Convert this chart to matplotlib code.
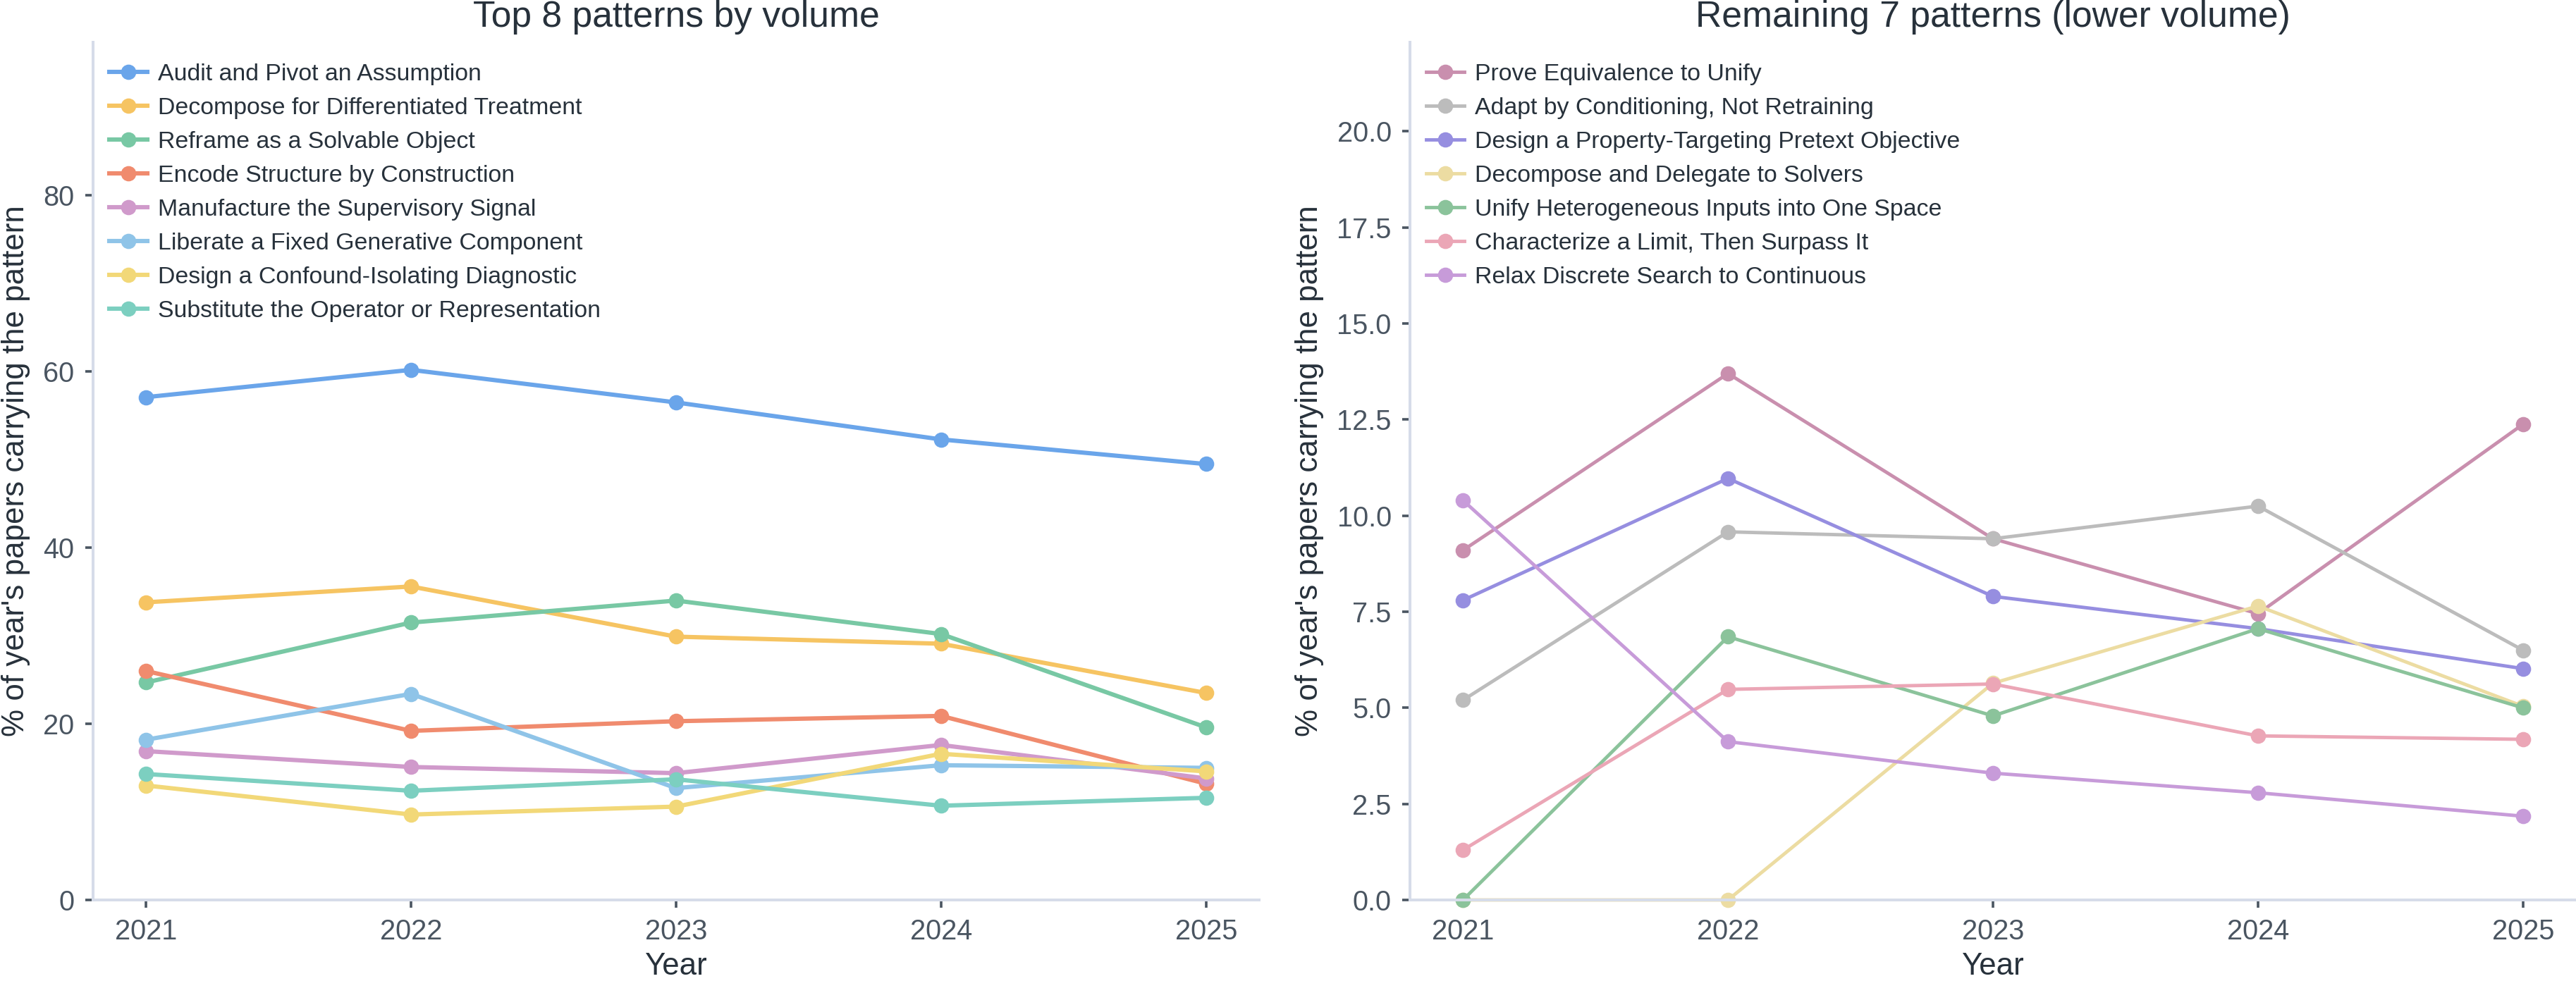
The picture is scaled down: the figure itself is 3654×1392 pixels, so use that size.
import matplotlib
matplotlib.use("Agg")
import matplotlib.pyplot as plt
from matplotlib.ticker import FormatStrFormatter

plt.rcParams['font.family'] = ['Liberation Sans', 'DejaVu Sans']

years = [2021, 2022, 2023, 2024, 2025]

top_names = [
    "Audit and Pivot an Assumption",
    "Decompose for Differentiated Treatment",
    "Reframe as a Solvable Object",
    "Encode Structure by Construction",
    "Manufacture the Supervisory Signal",
    "Liberate a Fixed Generative Component",
    "Design a Confound-Isolating Diagnostic",
    "Substitute the Operator or Representation",
]
top_values = [
    [57.1, 60.2, 56.5, 52.3, 49.5],
    [33.8, 35.6, 29.9, 29.1, 23.5],
    [24.7, 31.5, 34.0, 30.2, 19.6],
    [26.0, 19.2, 20.3, 20.9, 13.2],
    [16.9, 15.1, 14.4, 17.6, 13.8],
    [18.2, 23.4, 12.7, 15.3, 15.0],
    [13.0, 9.7, 10.6, 16.6, 14.6],
    [14.3, 12.4, 13.7, 10.7, 11.6],
]
top_colors = ["#6aa5ea", "#f6c462", "#78c8a4", "#f08b6e",
              "#d09acb", "#8fc4e8", "#f2d878", "#7ccfc0"]

rest_names = [
    "Prove Equivalence to Unify",
    "Adapt by Conditioning, Not Retraining",
    "Design a Property-Targeting Pretext Objective",
    "Decompose and Delegate to Solvers",
    "Unify Heterogeneous Inputs into One Space",
    "Characterize a Limit, Then Surpass It",
    "Relax Discrete Search to Continuous",
]
rest_values = [
    [9.1, 13.7, 9.4, 7.45, 12.38],
    [5.2, 9.58, 9.4, 10.25, 6.5],
    [7.8, 10.97, 7.9, 7.06, 6.02],
    [0.0, 0.0, 5.64, 7.65, 5.04],
    [0.0, 6.85, 4.79, 7.06, 5.0],
    [1.3, 5.48, 5.62, 4.27, 4.18],
    [10.4, 4.12, 3.3, 2.79, 2.18],
]
rest_colors = ["#c98fae", "#bcbcbc", "#968ee0", "#ecdca2",
               "#8bc39b", "#eba6b6", "#c79bd9"]

TEXT = "#27313b"
TICK = "#4a5561"
SPINE = "#d6dce9"

fig = plt.figure(figsize=(18.27, 6.96), dpi=200)
ax1 = fig.add_axes([0.03612, 0.08262, 0.45266, 0.87428])
ax2 = fig.add_axes([0.54735, 0.08262, 0.45266, 0.87428])


def style(ax, title, ytop, yticks):
    for s in ["top", "right"]:
        ax.spines[s].set_visible(False)
    for s in ["left", "bottom"]:
        ax.spines[s].set_color(SPINE)
        ax.spines[s].set_linewidth(1.45)
    ax.set_xlim(2020.8, 2025.2)
    ax.set_ylim(0, ytop)
    ax.set_xticks(years)
    ax.set_yticks(yticks)
    ax.tick_params(axis="both", colors=TICK, labelsize=14.3, length=4.0,
                   width=1.3, pad=5.5, labelcolor=TICK)
    ax.set_xlabel("Year", fontsize=15.8, color=TEXT, labelpad=3.5)
    ax.set_ylabel("% of year's papers carrying the pattern", fontsize=15.8,
                  color=TEXT, labelpad=6.5)
    ax.set_title(title, fontsize=18.6, color=TEXT, pad=8)
    leg = ax.legend(loc="upper left", bbox_to_anchor=(0.0057, 0.9865),
                    frameon=False, fontsize=12.2, handlelength=1.6,
                    labelspacing=0.5, borderaxespad=0.0, borderpad=0.4,
                    handletextpad=0.45)
    for t in leg.get_texts():
        t.set_color(TEXT)


for name, vals, c in zip(top_names, top_values, top_colors):
    ax1.plot(years, vals, color=c, lw=2.2, marker="o", markersize=6.8,
             label=name, clip_on=False)
for name, vals, c in zip(rest_names, rest_values, rest_colors):
    ax2.plot(years, vals, color=c, lw=1.75, marker="o", markersize=6.8,
             label=name, clip_on=False)

style(ax1, "Top 8 patterns by volume", 97.4, [0, 20, 40, 60, 80])
style(ax2, "Remaining 7 patterns (lower volume)", 22.32,
      [0, 2.5, 5, 7.5, 10, 12.5, 15, 17.5, 20])
ax2.yaxis.set_major_formatter(FormatStrFormatter("%.1f"))

fig.savefig("out.png", dpi=200, facecolor="white")
